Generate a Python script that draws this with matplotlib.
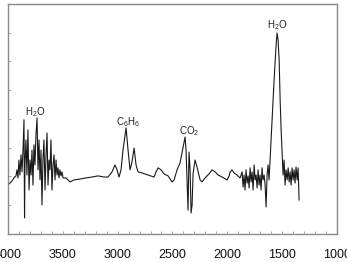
import matplotlib
matplotlib.use("Agg")
import matplotlib.pyplot as plt
from matplotlib.ticker import MultipleLocator, NullFormatter

plt.rcParams['font.family'] = ['Liberation Sans', 'DejaVu Sans']
plt.rcParams['mathtext.fontset'] = 'custom'
plt.rcParams['mathtext.rm'] = 'Liberation Sans'
plt.rcParams['mathtext.it'] = 'Liberation Sans'

wavenumber = [4000, 3982, 3964, 3945, 3927, 3918, 3909, 3900, 3891, 3881, 3872, 3863, 3854, 3849,
              3845, 3836, 3827, 3818, 3808, 3799, 3790, 3781, 3772, 3763, 3754, 3745, 3735, 3726,
              3717, 3708, 3699, 3690, 3681, 3672, 3662, 3653, 3644, 3635, 3626, 3617, 3608, 3599,
              3589, 3580, 3571, 3562, 3553, 3544, 3535, 3526, 3516, 3507, 3498, 3471, 3434, 3398,
              3343, 3288, 3234, 3179, 3124, 3088, 3051, 3024, 3005, 2987, 2969, 2951, 2923, 2905,
              2887, 2869, 2850, 2832, 2814, 2777, 2723, 2668, 2650, 2631, 2604, 2577, 2540, 2504,
              2485, 2458, 2431, 2403, 2385, 2376, 2367, 2358, 2349, 2339, 2330, 2321, 2312, 2294,
              2276, 2248, 2230, 2203, 2166, 2139, 2111, 2084, 2047, 2002, 1983, 1974, 1956, 1938,
              1911, 1883, 1865, 1856, 1847, 1838, 1829, 1819, 1810, 1801, 1792, 1783, 1774, 1765,
              1755, 1746, 1737, 1728, 1719, 1710, 1701, 1692, 1683, 1674, 1664, 1655, 1646, 1637,
              1628, 1619, 1610, 1591, 1573, 1555, 1546, 1537, 1527, 1518, 1509, 1500, 1491, 1482,
              1473, 1464, 1454, 1445, 1436, 1427, 1418, 1409, 1400, 1391, 1382, 1373, 1363, 1354,
              1345]
absorbance = [17.0, 17.7, 18.4, 19.5, 20.2, 22.3, 19.5, 25.7, 20.5, 27.5, 21.6, 29.2, 39.7, 5.6,
              24.0, 32.7, 20.5, 36.2, 15.3, 25.7, 20.5, 29.2, 17.0, 31.0, 24.0, 34.4, 40.3, 22.3,
              32.7, 18.8, 29.2, 10.1, 25.7, 32.7, 15.3, 27.5, 35.1, 17.0, 25.7, 22.3, 32.7, 15.3,
              24.0, 27.5, 18.8, 25.7, 20.5, 23.0, 19.5, 22.3, 20.2, 21.6, 19.5, 19.5, 18.1, 18.8,
              19.1, 19.5, 19.8, 20.2, 19.8, 19.8, 21.6, 24.0, 22.3, 19.8, 22.3, 29.2, 36.9, 29.2,
              22.3, 25.0, 29.9, 24.0, 21.6, 21.2, 20.5, 19.8, 21.6, 23.0, 22.3, 20.9, 20.2, 18.1,
              18.8, 22.3, 24.7, 30.3, 33.7, 29.2, 18.8, 8.3, 28.5, 22.3, 7.3, 10.1, 20.9, 25.7,
              23.3, 18.8, 18.1, 19.5, 20.9, 22.3, 21.6, 20.5, 19.8, 18.8, 20.2, 21.6, 22.3, 21.2,
              20.5, 19.5, 21.6, 16.3, 20.5, 15.3, 22.3, 17.7, 20.2, 16.0, 23.0, 18.1, 21.6, 15.3,
              24.0, 18.8, 20.5, 16.0, 22.3, 17.0, 20.5, 15.3, 23.0, 18.8, 20.5, 17.0, 9.4, 20.5,
              24.0, 18.8, 25.7, 39.7, 53.6, 65.7, 69.9, 67.5, 60.5, 46.6, 36.2, 28.2, 20.5, 25.7,
              17.0, 22.3, 18.8, 23.0, 18.1, 21.6, 17.0, 23.0, 18.8, 22.3, 17.7, 23.3, 18.8, 23.0,
              11.8]

peak_labels = [r'H$_\mathrm{2}$O', r'C$_\mathrm{6}$H$_\mathrm{6}$', r'CO$_\mathrm{2}$', r'H$_\mathrm{2}$O']
peak_pos = [3755, 2910, 2350, 1545]
peak_height = [42.5, 39.0, 35.9, 72.6]

xticks = [4000, 3500, 3000, 2500, 2000, 1500, 1000]

fig = plt.figure(figsize=(3.47, 2.62), dpi=100)
ax = fig.add_axes([0.023, 0.107, 0.948, 0.878])
ax.plot(wavenumber, absorbance, color='#1a1a1a', lw=0.8)
ax.set_xlim(4000, 1000)
ax.set_ylim(0, 80)
ax.set_xticks(xticks)
ax.set_xticklabels([str(t) for t in xticks])
ax.xaxis.set_minor_locator(MultipleLocator(100))
ax.yaxis.set_major_locator(MultipleLocator(10))
ax.yaxis.set_major_formatter(NullFormatter())
ax.tick_params(axis='both', which='both', direction='in', length=2.2, width=0.6,
               color='#999999', top=False, right=False)
ax.tick_params(axis='x', which='major', labelsize=9, pad=11, labelcolor='#111111')
for s in ax.spines.values():
    s.set_color('#8a8a8a')
    s.set_linewidth(1.0)

for lab, x, y in zip(peak_labels, peak_pos, peak_height):
    ax.text(x, y, lab, ha='center', va='center', fontsize=7, color='#222222')

fig.savefig('out.png', dpi=100)
